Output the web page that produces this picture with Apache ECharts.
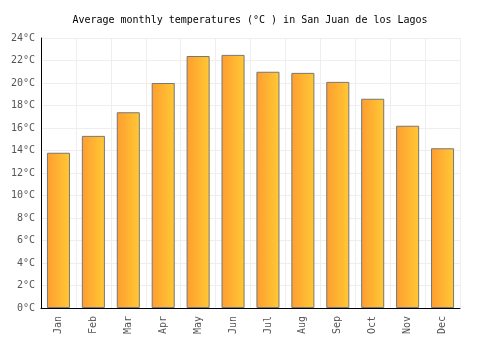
<!DOCTYPE html>
<html>
<head>
<meta charset="utf-8">
<script src="https://cdn.jsdelivr.net/npm/echarts@6/dist/echarts.min.js"></script>
<style>
  html, body { margin: 0; padding: 0; background: #fff; }
  #chart { width: 500px; height: 350px; }
</style>
</head>
<body>
<div id="chart"></div>
<script>
const months = ['Jan', 'Feb', 'Mar', 'Apr', 'May', 'Jun', 'Jul', 'Aug', 'Sep', 'Oct', 'Nov', 'Dec']
const temps = [13.8, 15.3, 17.4, 20.0, 22.4, 22.5, 21.0, 20.9, 20.1, 18.6, 16.2, 14.2]
const title = 'Average monthly temperatures (°C ) in San Juan de los Lagos'

const font = '"DejaVu Sans Mono", monospace'

const option = {
  animation: false,
  title: {
    text: title,
    left: 'center',
    top: 10,
    textStyle: { fontFamily: font, fontSize: 10, fontWeight: 'normal', color: '#000' }
  },
  grid: { left: 41, right: 40, top: 38, bottom: 42 },
  xAxis: {
    type: 'category',
    data: months,
    axisLine: { lineStyle: { color: '#000', width: 1 } },
    axisTick: { show: false },
    splitLine: { show: true, lineStyle: { color: '#eee' } },
    axisLabel: { rotate: 90, fontFamily: font, fontSize: 10, color: '#555', margin: 8 }
  },
  yAxis: {
    type: 'value',
    min: 0,
    max: 24,
    interval: 2,
    axisLine: { show: true, lineStyle: { color: '#000', width: 1 } },
    axisTick: { show: false },
    splitLine: { lineStyle: { color: '#eee' } },
    axisLabel: { formatter: '{value}°C', fontFamily: font, fontSize: 10, color: '#555', margin: 6 }
  },
  series: [{
    type: 'bar',
    data: temps,
    barWidth: '66%',
    itemStyle: {
      color: new echarts.graphic.LinearGradient(0, 0, 1, 0, [
        { offset: 0, color: '#ff9d30' },
        { offset: 1, color: '#ffc934' }
      ]),
      borderColor: '#777',
      borderWidth: 1
    }
  }]
}

const chart = echarts.init(document.getElementById('chart'))
chart.setOption(option)
</script>
</body>
</html>
